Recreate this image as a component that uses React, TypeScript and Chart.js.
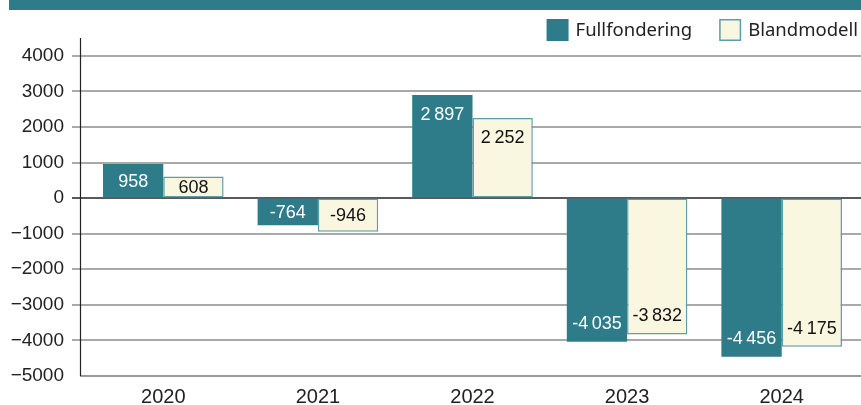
import React, { useEffect, useRef } from "react";
import { Chart, registerables } from "chart.js";

Chart.register(...registerables);

const categories = ["2020", "2021", "2022", "2023", "2024"];
const seriesNames = ["Fullfondering", "Blandmodell"];
const fullfondering = [958, -764, 2897, -4035, -4456];
const blandmodell = [608, -946, 2252, -3832, -4175];
const yTickValues = [4000, 3000, 2000, 1000, 0, -1000, -2000, -3000, -4000, -5000];

const TEAL = "#2E7B8A";
const CREAM = "#FAF7E0";
const CREAM_BORDER = "#5E9EA9";
const PLOT_BOTTOM = 376;

function fmtNumber(v: number): string {
  const s = Math.abs(v).toString();
  const withSep = s.replace(/\B(?=(\d{3})+(?!\d))/g, "\u2009");
  return (v < 0 ? "-" : "") + withSep;
}

const gridPlugin = {
  id: "customGrid",
  beforeDatasetsDraw(chart: any) {
    const ctx = chart.ctx;
    const y = chart.scales.y;
    const area = chart.chartArea;
    ctx.save();
    for (const t of y.ticks) {
      const py = Math.round(y.getPixelForValue(t.value));
      if (t.value === y.min) continue;
      ctx.beginPath();
      ctx.lineWidth = 1.5;
      ctx.strokeStyle = t.value === 0 ? "#222" : "#8c8c8c";
      ctx.moveTo(72, py);
      ctx.lineTo(chart.width, py);
      ctx.stroke();
    }
    const by = Math.round(y.getPixelForValue(y.min));
    ctx.beginPath();
    ctx.lineWidth = 2;
    ctx.strokeStyle = "#999";
    ctx.moveTo(80, by);
    ctx.lineTo(chart.width, by);
    ctx.stroke();
    ctx.beginPath();
    ctx.lineWidth = 1.2;
    ctx.strokeStyle = "#222";
    ctx.moveTo(80.5, area.top);
    ctx.lineTo(80.5, by);
    ctx.stroke();
    ctx.restore();
  },
};

const labelPlugin = {
  id: "barLabels",
  afterDatasetsDraw(chart: any) {
    const ctx = chart.ctx;
    ctx.save();
    ctx.font = '18px "Liberation Sans", Arial, sans-serif';
    ctx.textAlign = "center";
    ctx.textBaseline = "middle";
    chart.data.datasets.forEach((ds: any, di: number) => {
      const meta = chart.getDatasetMeta(di);
      meta.data.forEach((bar: any, i: number) => {
        const v = ds.data[i];
        const h = Math.abs(bar.base - bar.y);
        const inset = Math.min(19, h / 2);
        const py = v >= 0 ? bar.y + inset : bar.y - inset;
        ctx.fillStyle = di === 0 ? "#ffffff" : "#111111";
        ctx.fillText(fmtNumber(v), bar.x, py + 1);
      });
    });
    ctx.restore();
  },
};

const legendPlugin = {
  id: "customLegend",
  afterDraw(chart: any) {
    const ctx = chart.ctx;
    ctx.save();
    ctx.font = '18.5px "Noto Sans", sans-serif';
    ctx.textBaseline = "middle";
    const ds = chart.data.datasets;
    let right = 858;
    const items: any[] = [];
    for (let i = ds.length - 1; i >= 0; i--) {
      const w = ctx.measureText(ds[i].label).width;
      const textX = right - w;
      const boxX = textX - 29;
      items.push({ i, textX, boxX });
      right = boxX - 27;
    }
    const boxY = 19;
    const size = 22;
    for (const it of items) {
      const d = ds[it.i];
      ctx.fillStyle = d.backgroundColor;
      ctx.fillRect(it.boxX, boxY, size, size);
      if (d.borderWidth) {
        ctx.strokeStyle = d.borderColor;
        ctx.lineWidth = 1.5;
        ctx.strokeRect(it.boxX + 0.75, boxY + 0.75, size - 1.5, size - 1.5);
      }
      ctx.fillStyle = "#222";
      ctx.fillText(d.label, it.textX, boxY + size / 2 + 1);
    }
    ctx.restore();
  },
};

export default function App() {
  const ref = useRef<HTMLCanvasElement>(null);

  useEffect(() => {
    document.body.style.margin = "0";
    const chart = new Chart(ref.current!, {
      type: "bar",
      data: {
        labels: categories,
        datasets: [
          {
            label: seriesNames[0],
            data: fullfondering,
            backgroundColor: TEAL,
            borderWidth: 0,
          },
          {
            label: seriesNames[1],
            data: blandmodell,
            backgroundColor: CREAM,
            borderColor: CREAM_BORDER,
            borderWidth: 1.5,
            borderSkipped: false,
          },
        ],
      },
      options: {
        animation: false,
        responsive: false,
        maintainAspectRatio: false,
        layout: { padding: { top: 38, right: 2, left: 0, bottom: 0 } },
        datasets: {
          bar: { categoryPercentage: 0.78, barPercentage: 1 },
        },
        plugins: {
          legend: { display: false },
          tooltip: { enabled: false },
          title: { display: false },
        },
        scales: {
          x: {
            grid: { display: false, drawTicks: false },
            border: { display: false },
            ticks: {
              color: "#222",
              font: { family: '"Liberation Sans", Arial, sans-serif', size: 20, lineHeight: 1.2 },
              padding: 9,
              maxRotation: 0,
            },
          },
          y: {
            min: -5000,
            max: 4500,
            grid: {
              display: true,
              drawOnChartArea: false,
              drawTicks: true,
              tickLength: 22,
              color: "rgba(0,0,0,0)",
            },
            border: { display: false },
            afterBuildTicks(scale: any) {
              scale.ticks = yTickValues.map((v) => ({ value: v }));
            },
            ticks: {
              color: "#222",
              font: { family: '"Liberation Sans", Arial, sans-serif', size: 19 },
              padding: 0,
              callback: (v: any) => (v < 0 ? "\u2212" + Math.abs(v) : String(v)),
            },
            afterFit(scale: any) {
              scale.width = 86;
            },
          },
        },
      },
      plugins: [gridPlugin, labelPlugin, legendPlugin],
    });
    const diff = chart.chartArea.bottom - PLOT_BOTTOM;
    if (diff > 0) {
      (chart.options.layout as any).padding = { top: 38, right: 2, left: 0, bottom: diff };
      chart.update();
    }
    return () => chart.destroy();
  }, []);

  return (
    <div style={{ position: "relative", width: 861, height: 405, background: "#fff", overflow: "hidden" }}>
      <div style={{ position: "absolute", left: 9, top: 0, width: 852, height: 10, background: TEAL }} />
      <canvas ref={ref} width={861} height={440} style={{ position: "absolute", left: 0, top: 0 }} />
    </div>
  );
}
